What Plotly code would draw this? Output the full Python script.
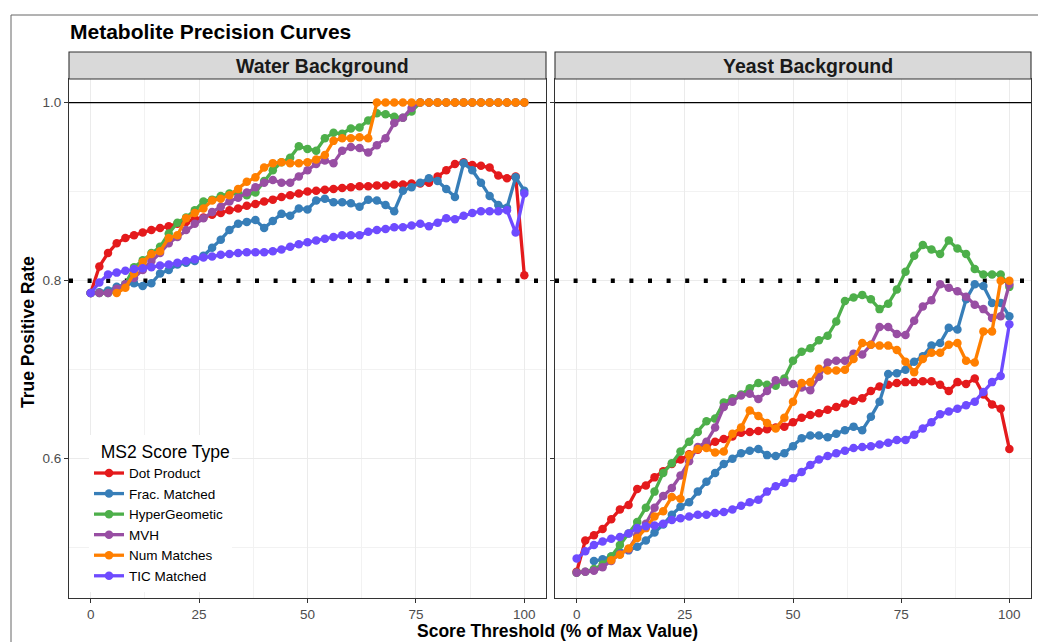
import plotly.graph_objects as go

# ---------------- data ----------------
thresholds = list(range(0, 101, 2))
series_names = ["Dot Product", "Frac. Matched", "HyperGeometic", "MVH", "Num Matches", "TIC Matched"]
series_colors = ["#E41A1C", "#377EB8", "#4DAF4A", "#984EA3", "#FF7F00", "#6E4BFF"]
tick_vals_x = [0, 25, 50, 75, 100]
tick_vals_y = [0.6, 0.8, 1.0]
tick_text_y = ["0.6", "0.8", "1.0"]
panel_titles = ["Water Background", "Yeast Background"]
ref_levels = [1.0, 0.8]

water_dot = [.786, .816, .831, .842, .848, .851, .854, .857, .859, .861,
             .864, .866, .869, .871, .874, .876, .879, .881, .884, .886,
             .889, .891, .894, .896, .898, .900, .901, .902, .903, .904,
             .905, .906, .906, .907, .907, .908, .908, .909, .909, .910,
             .917, .924, .931, .933, .930, .929, .927, .918, .915, .917, .806]
water_frac = [.786, .787, .789, .793, .796, .797, .794, .797, .808, .812,
              .818, .820, .822, .828, .837, .846, .857, .864, .866, .868,
              .859, .867, .875, .873, .881, .880, .890, .892, .888, .888,
              .887, .883, .891, .890, .885, .878, .901, .905, .910, .915,
              .912, .903, .894, .932, .924, .910, .895, .885, .882, .916, .901]
water_hyper = [.786, .786, .786, .788, .796, .815, .823, .831, .838, .853,
               .865, .871, .879, .889, .891, .895, .898, .898, .896, .899,
               .912, .924, .933, .938, .951, .948, .946, .960, .966, .965,
               .971, .972, .980, .988, .987, .984, .983, .990, 1.0, 1.0,
               1.0, 1.0, 1.0, 1.0, 1.0, 1.0, 1.0, 1.0, 1.0, 1.0, 1.0]
water_mvh = [.786, .786, .786, .791, .796, .803, .812, .822, .831, .842,
             .849, .857, .864, .870, .877, .883, .889, .893, .899, .905,
             .910, .913, .910, .910, .917, .924, .931, .935, .932, .946,
             .950, .949, .944, .952, .960, .977, .983, .994, 1.0, 1.0,
             1.0, 1.0, 1.0, 1.0, 1.0, 1.0, 1.0, 1.0, 1.0, 1.0, 1.0]
water_num = [None, None, None, .786, .792, .808, .821, .830, .833, .848,
             .851, .870, .876, .881, .890, .892, .896, .903, .911, .916,
             .927, .932, .933, .932, .932, .933, .936, .941, .957, .960,
             .960, .961, .960, 1.0, 1.0, 1.0, 1.0, 1.0, 1.0, 1.0,
             1.0, 1.0, 1.0, 1.0, 1.0, 1.0, 1.0, 1.0, 1.0, 1.0, 1.0]
water_tic = [.786, .798, .807, .809, .811, .813, .814, .815, .817, .818,
             .820, .822, .824, .826, .827, .829, .830, .831, .832, .832,
             .832, .833, .835, .838, .841, .843, .845, .847, .849, .851,
             .851, .851, .855, .857, .858, .860, .860, .862, .864, .861,
             .865, .870, .869, .873, .876, .878, .878, .878, .879, .854, .898]

yeast_dot = [.473, .508, .514, .521, .532, .543, .548, .566, .570, .579,
             .586, .594, .599, .605, .610, .614, .619, .622, .625, .629,
             .630, .631, .633, .635, .636, .641, .646, .649, .651, .655,
             .658, .662, .665, .668, .676, .681, .683, .685, .686, .686,
             .687, .687, .683, .676, .686, .684, .690, .672, .661, .656, .611]
yeast_frac = [None, None, .485, .487, .490, .495, .497, .501, .508, .517,
              .526, .537, .546, .551, .563, .574, .584, .594, .600, .606,
              .609, .611, .604, .603, .606, .614, .623, .626, .626, .624,
              .628, .632, .636, .632, .647, .664, .695, .696, .700, .709,
              .715, .727, .730, .747, .745, .779, .796, .794, .775, .775, .760]
yeast_hyper = [.472, .473, .476, .481, .490, .503, .516, .529, .545, .563,
               .584, .595, .608, .619, .630, .642, .645, .663, .668, .672,
               .679, .685, .683, .682, .690, .710, .720, .724, .733, .738,
               .754, .777, .781, .784, .779, .768, .774, .790, .810, .828,
               .840, .835, .830, .845, .836, .830, .813, .807, .807, .807, .793]
yeast_mvh = [.472, .473, .474, .478, .485, .493, .498, .514, .527, .545,
             .558, .567, .581, .597, .613, .619, .635, .658, .664, .671,
             .673, .667, .676, .688, .686, .684, .680, .677, .692, .708,
             .710, .710, .718, .717, .728, .748, .748, .740, .739, .755,
             .771, .778, .796, .792, .788, .782, .773, .768, .758, .760, .796]
yeast_num = [None, None, None, None, .486, .492, .499, .511, .522, .535,
             .541, .557, .555, .604, .611, .612, .607, .608, .628, .635,
             .654, .648, .640, .634, .646, .664, .685, .686, .701, .699,
             .699, .700, .712, .730, .728, .727, .727, .722, .709, .697,
             .712, .719, .719, .728, .730, .710, .708, .743, .743, .800, .800]
yeast_tic = [.488, .496, .503, .507, .510, .512, .516, .522, .524, .525,
             .527, .531, .533, .535, .537, .537, .539, .540, .543, .547,
             .551, .554, .563, .569, .573, .578, .585, .593, .599, .603,
             .606, .609, .612, .613, .614, .616, .618, .621, .621, .627,
             .634, .641, .650, .653, .656, .660, .664, .675, .686, .693, .751]

water = [water_dot, water_frac, water_hyper, water_mvh, water_num, water_tic]
yeast = [yeast_dot, yeast_frac, yeast_hyper, yeast_mvh, yeast_num, yeast_tic]

# ---------------- figure ----------------
FONT = "Liberation Sans, Arial, Helvetica, sans-serif"
XR = [-5, 105]
fig = go.Figure()

for p, (panel, xa, ya) in enumerate([(water, "x", "y"), (yeast, "x2", "y2")]):
    # reference lines (solid at 1.0, dotted at 0.8), drawn under the curves
    fig.add_trace(go.Scatter(x=XR, y=[ref_levels[0]] * 2, mode="lines",
                             line=dict(color="black", width=1.1), xaxis=xa, yaxis=ya,
                             showlegend=False, hoverinfo="skip"))
    fig.add_trace(go.Scatter(x=XR, y=[ref_levels[1]] * 2, mode="lines",
                             line=dict(color="black", width=4.5, dash="4px,14.6px"),
                             xaxis=xa, yaxis=ya, showlegend=False, hoverinfo="skip"))
    for name, color, vals in zip(series_names, series_colors, panel):
        fig.add_trace(go.Scatter(
            x=thresholds, y=vals, mode="lines+markers", name=name,
            line=dict(color=color, width=3.3),
            marker=dict(color=color, size=8.5),
            xaxis=xa, yaxis=ya, legendgroup=name, showlegend=(p == 0),
            connectgaps=False, hoverinfo="skip", cliponaxis=False))

W, H = 1038, 642
ML, MR, MT, MB = 69, 7, 52, 44
pw = W - ML - MR
ph = H - MT - MB
def px_x(px):
    return (px - ML) / pw
def px_y(py):
    return (H - MB - py) / ph

d1 = [0, px_x(546)]
d2 = [px_x(555), 1]
ytop = px_y(79)
strip_text_shift = 15 / pw

axis_common = dict(
    showline=True, mirror=True, linecolor="#333333", linewidth=1.1,
    showgrid=True, gridcolor="#EBEBEB", gridwidth=1.1, zeroline=False,
    ticks="outside", ticklen=4, tickcolor="#333333", tickwidth=1,
    tickfont=dict(family=FONT, size=13.5, color="#4D4D4D"),
    automargin=False,
)
xcommon = dict(axis_common, range=XR, tickmode="array", tickvals=tick_vals_x,
               minor=dict(tickvals=[12.5, 37.5, 62.5, 87.5], showgrid=True,
                          gridcolor="#F2F2F2", gridwidth=0.6, ticks=""))
ycommon = dict(axis_common, range=[0.4435, 1.0265], tickmode="array", tickvals=tick_vals_y,
               ticktext=tick_text_y,
               minor=dict(tickvals=[0.5, 0.7, 0.9], showgrid=True,
                          gridcolor="#F2F2F2", gridwidth=0.6, ticks=""))

fig.update_layout(
    width=W, height=H,
    margin=dict(l=ML, r=MR, t=MT, b=MB, autoexpand=False),
    paper_bgcolor="white", plot_bgcolor="white",
    font=dict(family=FONT, color="black"),
    xaxis=dict(xcommon, domain=d1, anchor="y"),
    xaxis2=dict(xcommon, domain=d2, anchor="y2"),
    yaxis=dict(ycommon, domain=[0, ytop], anchor="x"),
    yaxis2=dict(ycommon, domain=[0, ytop], anchor="x2", matches="y", showticklabels=False),
    legend=dict(
        title=dict(text="&nbsp;&nbsp;MS2 Score Type",
                   font=dict(family=FONT, size=17.5, color="black")),
        font=dict(family=FONT, size=13.5, color="black"),
        x=px_x(89), y=px_y(435), xanchor="left", yanchor="top",
        bgcolor="white", borderwidth=0, itemwidth=30, tracegroupgap=0,
    ),
    showlegend=True,
)

shapes = []
annotations = []
# strips
for dom, title in zip([d1, d2], panel_titles):
    shapes.append(dict(type="rect", xref="paper", yref="paper", x0=dom[0], x1=dom[1],
                       y0=ytop, y1=1.0, fillcolor="#D9D9D9",
                       line=dict(color="#333333", width=1.1), layer="above"))
    annotations.append(dict(text=f"<b>{title}</b>", xref="paper", yref="paper",
                            x=(dom[0] + dom[1]) / 2 + strip_text_shift, y=(ytop + 1.0) / 2,
                            xanchor="center", yanchor="middle", showarrow=False,
                            font=dict(family=FONT, size=19.5, color="#1A1A1A")))
# outer border
shapes.append(dict(type="rect", xref="paper", yref="paper", x0=px_x(11), x1=px_x(1100),
                   y0=px_y(700), y1=px_y(15), line=dict(color="#666666", width=1),
                   fillcolor="rgba(0,0,0,0)", layer="below"))
# titles
annotations.append(dict(text="<b>Metabolite Precision Curves</b>", xref="paper", yref="paper",
                        x=px_x(68), y=px_y(32), xanchor="left", yanchor="middle", showarrow=False,
                        font=dict(family=FONT, size=21, color="black")))
annotations.append(dict(text="<b>Score Threshold (% of Max Value)</b>", xref="paper", yref="paper",
                        x=px_x(557), y=px_y(631), xanchor="center", yanchor="middle", showarrow=False,
                        font=dict(family=FONT, size=17.5, color="black")))
annotations.append(dict(text="<b>True Positive Rate</b>", xref="paper", yref="paper",
                        x=px_x(28), y=px_y(332), xanchor="center", yanchor="middle", showarrow=False,
                        textangle=-90, font=dict(family=FONT, size=17.5, color="black")))

fig.update_layout(shapes=shapes, annotations=annotations)
fig.write_html("out.html", config={"displayModeBar": False},
               post_script="document.body.style.margin='0';document.body.style.padding='0';")
